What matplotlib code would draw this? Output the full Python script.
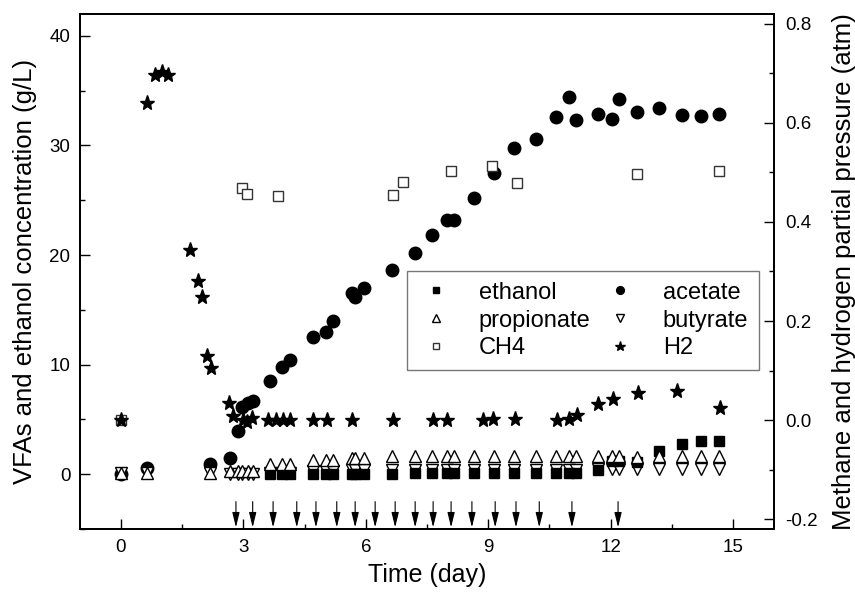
import matplotlib
matplotlib.use("Agg")
import matplotlib.pyplot as plt
from matplotlib.ticker import MultipleLocator

plt.rcParams['font.family'] = ['Liberation Sans', 'DejaVu Sans']
nan = float('nan')

# ---- liquid samples (g/L) ----
t_liq = [0, 0.64, 2.18, 2.67, 2.87, 2.96, 3.12, 3.23, 3.65, 3.94, 4.14, 4.71, 5.02, 5.19,
         5.66, 5.74, 5.96, 6.64, 7.2, 7.62, 7.99, 8.16, 8.65, 9.14, 9.63, 10.17, 10.66,
         10.98, 11.15, 11.69, 12.03, 12.2, 12.65, 13.19, 13.75, 14.2, 14.66]
acetate = [0.0, 0.6, 0.9, 1.5, 3.9, 6.1, 6.5, 6.7, 8.5, 9.8, 10.4, 12.5, 13.0, 14.0,
           16.5, 16.2, 17.0, 18.6, 20.2, 21.8, 23.2, 23.2, 25.2, 27.5, 29.8, 30.6, 32.6,
           34.4, 32.3, 32.9, 32.4, 34.2, 33.1, 33.4, 32.8, 32.7, 32.9]
ethanol = [nan, nan, nan, nan, nan, nan, nan, nan, 0.0, 0.0, 0.0, 0.0, 0.0, 0.0,
           0.0, 0.0, 0.0, 0.0, 0.1, 0.1, 0.1, 0.1, 0.1, 0.1, 0.1, 0.1, 0.1,
           0.1, 0.1, 0.4, 1.2, 1.2, 1.1, 2.1, 2.8, 3.0, 3.0]
propionate = [0.1, 0.1, 0.1, 0.3, 0.3, 0.3, 0.3, 0.3, 0.9, 0.9, 0.9, 1.3, 1.3, 1.3,
              1.5, 1.5, 1.5, 1.7, 1.7, 1.7, 1.7, 1.7, 1.7, 1.7, 1.7, 1.7, 1.7,
              1.7, 1.7, 1.7, 1.7, 1.7, 1.6, 1.7, 1.7, 1.7, 1.7]
butyrate = [0.1, 0.1, 0.1, 0.0, 0.0, 0.0, 0.0, 0.0, 0.1, 0.1, 0.1, 0.3, 0.3, 0.3,
            0.4, 0.4, 0.4, 0.4, 0.4, 0.4, 0.4, 0.4, 0.4, 0.4, 0.4, 0.4, 0.4,
            0.4, 0.4, 0.45, 0.45, 0.45, 0.45, 0.45, 0.45, 0.45, 0.45]

# ---- gas samples (atm) ----
t_h2 = [0, 0.63, 0.84, 1.0, 1.15, 1.69, 1.89, 1.99, 2.11, 2.2, 2.65, 2.75, 2.99, 3.09, 3.21,
        3.6, 3.8, 3.97, 4.14, 4.71, 5.05, 5.66, 6.67, 7.65, 7.99, 8.87, 9.12, 9.66,
        10.69, 10.98, 11.18, 11.69, 12.06, 12.67, 13.63, 14.68]
h2 = [0.0, 0.641, 0.696, 0.702, 0.696, 0.343, 0.280, 0.248, 0.129, 0.105, 0.034, 0.008, 0.0,
      -0.003, 0.004, 0.0, 0.0, 0.0, 0.0, 0.0, 0.0, 0.0, 0.0, 0.0, 0.0, 0.0, 0.002, 0.002,
      0.0, 0.002, 0.010, 0.032, 0.042, 0.054, 0.058, 0.024]
t_ch4 = [0, 2.97, 3.09, 3.85, 6.67, 6.9, 8.09, 9.09, 9.71, 12.65, 14.66]
ch4 = [0.0, 0.468, 0.456, 0.452, 0.454, 0.48, 0.502, 0.514, 0.478, 0.496, 0.502]

# ---- feeding events (arrows) ----
feed_days = [2.82, 3.23, 3.73, 4.31, 4.78, 5.29, 5.74, 6.23, 6.72, 7.21, 7.65, 8.09,
             8.60, 9.17, 9.68, 10.25, 11.05, 12.18]

fig = plt.figure(figsize=(8.55, 6.0), dpi=100)
ax = fig.add_axes([80/855, 71/600, 694/855, 515/600])
ax2 = ax.twinx()

ms = 9.2
h_ac, = ax.plot(t_liq, acetate, 'o', color='black', ms=9.0, ls='none', label='acetate', zorder=2)
h_bu, = ax.plot(t_liq, butyrate, 'v', mfc='white', mec='black', mew=1.0, ms=ms, ls='none',
                label='butyrate', zorder=3)
h_et, = ax.plot(t_liq, ethanol, 's', color='black', ms=7.8, ls='none', label='ethanol', zorder=4)
h_pr, = ax.plot(t_liq, propionate, '^', mfc='white', mec='black', mew=1.0, ms=ms, ls='none',
                label='propionate', zorder=5)

h_ch4, = ax2.plot(t_ch4, ch4, 's', mfc='white', mec='#333333', mew=1.0, ms=7.4, ls='none',
                  label='CH4', zorder=2)
h_h2, = ax2.plot(t_h2, h2, '*', color='black', ms=11, ls='none', label='H2', zorder=3)

for d in feed_days:
    ax.annotate('', xy=(d, -4.85), xytext=(d, -2.5),
                arrowprops=dict(arrowstyle='-|>,head_length=0.9,head_width=0.22',
                                color='black', lw=0.8, shrinkA=0, shrinkB=0))

ax.set_xlim(-1, 16)
ax.set_ylim(-5, 42)
ax2.set_ylim(-0.22, 0.82)

ax.xaxis.set_major_locator(MultipleLocator(3))
ax.xaxis.set_minor_locator(MultipleLocator(1.5))
ax.yaxis.set_major_locator(MultipleLocator(10))
ax.yaxis.set_minor_locator(MultipleLocator(5))
ax2.yaxis.set_major_locator(MultipleLocator(0.2))
ax2.yaxis.set_minor_locator(MultipleLocator(0.1))

for a in (ax, ax2):
    for s in a.spines.values():
        s.set_linewidth(1.3)
ax.tick_params(which='both', direction='in', labelsize=13.5, width=1.0, top=False, right=False)
ax.tick_params(which='major', length=7, pad=7)
ax.tick_params(which='minor', length=3.5)
ax2.tick_params(which='both', direction='in', labelsize=13.5, width=1.0)
ax2.tick_params(which='major', length=7, pad=8)
ax2.tick_params(which='minor', length=3.5)
ax2.set_yticks([-0.2, 0.0, 0.2, 0.4, 0.6, 0.8])
ax2.set_yticklabels(['-0.2', '0.0', '0.2', '0.4', '0.6', '0.8'])

ax.set_xlabel('Time (day)', fontsize=18, labelpad=5)
ax.set_ylabel('VFAs and ethanol concentration (g/L)', fontsize=18.5, labelpad=9)
ax2.set_ylabel('Methane and hydrogen partial pressure (atm)', fontsize=18.5, labelpad=10)

leg = ax2.legend(handles=[h_et, h_pr, h_ch4, h_ac, h_bu, h_h2], ncol=2,
                 loc='upper left', bbox_to_anchor=(0.471, 0.501), fontsize=17,
                 markerscale=0.62, frameon=True, fancybox=False, framealpha=1,
                 edgecolor='#777777', handlelength=1.6, handletextpad=1.0,
                 columnspacing=0.45, labelspacing=0.25, borderpad=0.45, borderaxespad=0)
leg.get_frame().set_linewidth(1.0)

fig.savefig('out.png', dpi=100)
